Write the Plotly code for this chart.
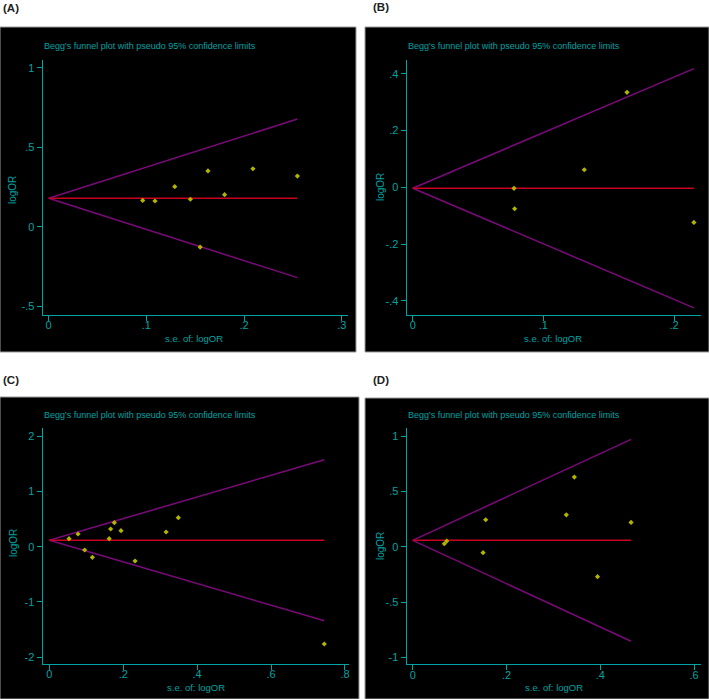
import numpy as np
import plotly.graph_objects as go

W, H = 709, 699

# ---------------- data ----------------
se_A = [0.0962, 0.1088, 0.129, 0.145, 0.155, 0.163, 0.180, 0.209, 0.2545]
lor_A = [0.166, 0.162, 0.252, 0.173, -0.128, 0.351, 0.202, 0.365, 0.319]
pooled_A = 0.179

se_B = [0.0775, 0.078, 0.1313, 0.164, 0.2152]
lor_B = [-0.0035, -0.0755, 0.062, 0.335, -0.1235]
pooled_B = -0.003

se_C = [0.0533, 0.0777, 0.0957, 0.1165, 0.162, 0.166, 0.176, 0.194, 0.232, 0.316, 0.349, 0.744]
lor_C = [0.145, 0.230, -0.060, -0.193, 0.145, 0.321, 0.435, 0.290, -0.259, 0.266, 0.525, -1.763]
pooled_C = 0.117

se_D = [0.0674, 0.0725, 0.150, 0.1556, 0.3275, 0.3446, 0.394, 0.4655]
lor_D = [0.027, 0.0515, -0.054, 0.244, 0.289, 0.630, -0.271, 0.220]
pooled_D = 0.058

xt_A = [0, 0.1, 0.2, 0.3]; xl_A = ["0", ".1", ".2", ".3"]
yt_A = [-0.5, 0, 0.5, 1]; yl_A = ["-.5", "0", ".5", "1"]
xt_B = [0, 0.1, 0.2]; xl_B = ["0", ".1", ".2"]
yt_B = [-0.4, -0.2, 0, 0.2, 0.4]; yl_B = ["-.4", "-.2", "0", ".2", ".4"]
xt_C = [0, 0.2, 0.4, 0.6, 0.8]; xl_C = ["0", ".2", ".4", ".6", ".8"]
yt_C = [-2, -1, 0, 1, 2]; yl_C = ["-2", "-1", "0", "1", "2"]
xt_D = [0, 0.2, 0.4, 0.6]; xl_D = ["0", ".2", ".4", ".6"]
yt_D = [-1, -0.5, 0, 0.5, 1]; yl_D = ["-1", "-.5", "0", ".5", "1"]

panel_labels = ["(A)", "(B)", "(C)", "(D)"]
title_text = "Begg's funnel plot with pseudo 95% confidence limits"
xtitle = "s.e. of: logOR"
ytitle = "logOR"

# ---------------- layout geometry (pixels) ----------------
TEAL = "#00a3a3"
RED = "#c8001e"
PURPLE = "#7a0a7a"
DOT = "#b4b400"
FONT = "Liberation Sans, Arial"

panels = [
    dict(se=se_A, lor=lor_A, pooled=pooled_A, xt=xt_A, xl=xl_A, yt=yt_A, yl=yl_A,
         box=(0, 27, 356, 352), px=(42.7, 348.0), py=(60, 315),
         xr=[-0.0061, 0.3063], yr=[-0.555, 1.049], lab=(1, 8),
         title=(42, 46), xtl=(194, 338), ytl=(13, 190)),
    dict(se=se_B, lor=lor_B, pooled=pooled_B, xt=xt_B, xl=xl_B, yt=yt_B, yl=yl_B,
         box=(365, 27, 709, 352), px=(406.7, 700.7), py=(60, 315),
         xr=[-0.0046, 0.2204], yr=[-0.450, 0.449], lab=(371, 7),
         title=(406, 46), xtl=(553, 338), ytl=(380, 187)),
    dict(se=se_C, lor=lor_C, pooled=pooled_C, xt=xt_C, xl=xl_C, yt=yt_C, yl=yl_C,
         box=(0, 397, 359, 699), px=(42.7, 349.3), py=(428.3, 664),
         xr=[-0.0179, 0.8117], yr=[-2.125, 2.145], lab=(1, 380),
         title=(42, 415), xtl=(196, 687), ytl=(13, 543)),
    dict(se=se_D, lor=lor_D, pooled=pooled_D, xt=xt_D, xl=xl_D, yt=yt_D, yl=yl_D,
         box=(365, 398, 709, 699), px=(406.7, 700.7), py=(428.3, 664.3),
         xr=[-0.0128, 0.614], yr=[-1.063, 1.071], lab=(371, 380),
         title=(406, 415), xtl=(554, 687), ytl=(380, 546)),
]


def fx(p):
    return p / W


def fy(p):
    return 1 - p / H


fig = go.Figure()
shapes = []
annotations = []
layout_axes = {}

for i, p in enumerate(panels):
    n = "" if i == 0 else str(i + 1)
    xa, ya = "x" + n, "y" + n
    se = np.array(p["se"])
    smax = se.max()
    th = p["pooled"]
    # pseudo 95% limits (pooled +/- 1.96*se) and pooled estimate
    fig.add_trace(go.Scatter(x=[0, smax], y=[th, th + 1.96 * smax], mode="lines",
                             line=dict(color=PURPLE, width=1.5), xaxis=xa, yaxis=ya,
                             showlegend=False, hoverinfo="skip"))
    fig.add_trace(go.Scatter(x=[0, smax], y=[th, th - 1.96 * smax], mode="lines",
                             line=dict(color=PURPLE, width=1.5), xaxis=xa, yaxis=ya,
                             showlegend=False, hoverinfo="skip"))
    fig.add_trace(go.Scatter(x=[0, smax], y=[th, th], mode="lines",
                             line=dict(color=RED, width=1.5), xaxis=xa, yaxis=ya,
                             showlegend=False, hoverinfo="skip"))
    fig.add_trace(go.Scatter(x=p["se"], y=p["lor"], mode="markers",
                             marker=dict(symbol="diamond", size=4, color=DOT,
                                         line=dict(width=0)),
                             xaxis=xa, yaxis=ya, showlegend=False))

    axfont = dict(family=FONT, size=11, color=TEAL)
    layout_axes["xaxis" + n] = dict(
        domain=[fx(p["px"][0]), fx(p["px"][1])], range=p["xr"], anchor=ya,
        tickvals=p["xt"], ticktext=p["xl"], ticks="outside", ticklen=5,
        tickcolor=TEAL, tickwidth=1, showline=True, linecolor=TEAL, linewidth=1.3,
        showgrid=False, zeroline=False, tickfont=axfont, fixedrange=True,
        ticklabelstandoff=-5)
    layout_axes["yaxis" + n] = dict(
        domain=[fy(p["py"][1]), fy(p["py"][0])], range=p["yr"], anchor=xa,
        tickvals=p["yt"], ticktext=p["yl"], ticks="outside", ticklen=5,
        tickcolor=TEAL, tickwidth=1, showline=True, linecolor=TEAL, linewidth=1.3,
        showgrid=False, zeroline=False, tickfont=axfont, fixedrange=True)

    b = p["box"]
    shapes.append(dict(type="rect", xref="paper", yref="paper", layer="below",
                       x0=fx(b[0]), x1=fx(b[2]), y0=fy(b[3]), y1=fy(b[1]),
                       fillcolor="black", line=dict(color="#9a9a9a", width=1)))

    annotations.append(dict(text="<b>" + panel_labels[i] + "</b>", xref="paper", yref="paper",
                            x=fx(p["lab"][0]), y=fy(p["lab"][1]), xanchor="left", yanchor="middle",
                            showarrow=False, font=dict(family="Liberation Sans, Arial", size=11.5,
                                                       color="#222222")))
    annotations.append(dict(text=title_text, xref="paper", yref="paper",
                            x=fx(p["title"][0]), y=fy(p["title"][1]), xanchor="left",
                            yanchor="middle", showarrow=False,
                            font=dict(family=FONT, size=9, color=TEAL)))
    annotations.append(dict(text=xtitle, xref="paper", yref="paper",
                            x=fx(p["xtl"][0]), y=fy(p["xtl"][1]), xanchor="center",
                            yanchor="middle", showarrow=False,
                            font=dict(family=FONT, size=9.5, color=TEAL)))
    annotations.append(dict(text=ytitle, xref="paper", yref="paper", textangle=-90,
                            x=fx(p["ytl"][0]), y=fy(p["ytl"][1]), xanchor="center",
                            yanchor="middle", showarrow=False,
                            font=dict(family=FONT, size=10, color=TEAL)))

fig.update_layout(width=W, height=H, margin=dict(l=0, r=0, t=0, b=0),
                  paper_bgcolor="white", plot_bgcolor="rgba(0,0,0,0)",
                  shapes=shapes, annotations=annotations, **layout_axes)

fig.write_html("out.html", config={"displayModeBar": False},
               post_script="document.body.style.margin='0px';document.body.style.overflow='hidden';")
